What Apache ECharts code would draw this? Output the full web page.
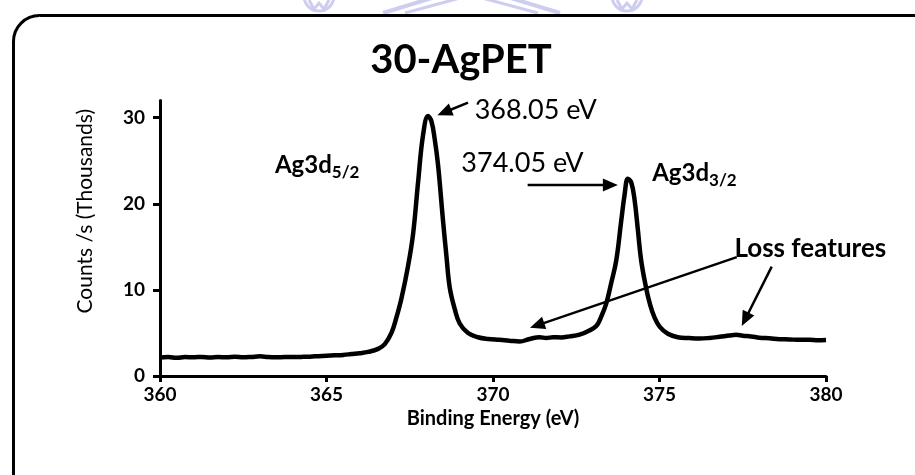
<!DOCTYPE html>
<html>
<head>
<meta charset="utf-8">
<script src="https://cdn.jsdelivr.net/npm/echarts@6/dist/echarts.min.js"></script>
<style>
  html, body { margin: 0; padding: 0; background: #ffffff; }
  #chart { width: 915px; height: 475px; }
</style>
</head>
<body>
<div id="chart"></div>
<script>
// Ag 3d XPS spectrum of the 30-AgPET sample
const energy = [
  360, 360.25, 360.5, 360.75, 361, 361.25, 361.5, 361.75, 362, 362.25, 362.5, 362.75,
  363, 363.25, 363.5, 363.75, 364, 364.25, 364.5, 364.75, 365, 365.25, 365.5, 365.75,
  366, 366.25, 366.55, 366.75, 366.95, 367.1, 367.25, 367.45, 367.6, 367.75, 367.9,
  368.05, 368.15, 368.25, 368.35, 368.5, 368.6, 368.7, 368.85, 369, 369.25, 369.55,
  369.85, 370.2, 370.5, 370.8, 371.1, 371.4, 371.6, 371.8, 372.05, 372.3, 372.6,
  372.85, 373.1, 373.25, 373.4, 373.55, 373.7, 373.85, 373.95, 374.05, 374.15, 374.25,
  374.35, 374.45, 374.6, 374.71, 374.85, 375.01, 375.25, 375.55, 375.9, 376.2, 376.5,
  376.8, 377.1, 377.3, 377.5, 377.75, 378, 378.3, 378.6, 378.9, 379.2, 379.5, 379.75, 380
];
// counts per second, thousands
const counts = [
  2.15, 2.2, 2.12, 2.2, 2.17, 2.22, 2.15, 2.2, 2.18, 2.24, 2.17, 2.22,
  2.28, 2.2, 2.18, 2.2, 2.2, 2.22, 2.25, 2.3, 2.35, 2.4, 2.45, 2.55,
  2.65, 2.8, 3.15, 3.7, 5.0, 6.8, 9.0, 12.8, 16.5, 22.5, 28.0,
  30.2, 29.6, 27.5, 24.5, 18.0, 14.0, 10.3, 7.8, 6.1, 5.0, 4.5,
  4.3, 4.2, 4.1, 4.0, 4.3, 4.5, 4.42, 4.5, 4.48, 4.6, 4.8,
  5.2, 5.8, 6.9, 8.4, 10.8, 13.4, 18.0, 21.0, 22.9, 22.5, 20.5,
  17.0, 13.4, 10.2, 8.4, 6.8, 5.7, 4.9, 4.5, 4.4, 4.35, 4.42,
  4.55, 4.7, 4.78, 4.68, 4.6, 4.45, 4.38, 4.28, 4.25, 4.2, 4.22, 4.15, 4.18
];

const xTickValues = [360, 365, 370, 375, 380];
const yTickValues = [0, 10, 20, 30];

// peak annotations: [energy, counts] in axis units
const peakTexts = [
  { text: '368.05 eV', at: [369.45, 30.9] },
  { text: '374.05 eV', at: [369.05, 24.7] }
];
const peakNames = [
  { main: 'Ag3d', sub: '5/2', at: [363.45, 24.5] },
  { main: 'Ag3d', sub: '3/2', at: [374.78, 23.5] }
];
const lossText = { text: 'Loss features', at: [377.25, 14.8] };
// arrows: tail -> head
const arrows = [
  { from: [369.25, 31.75], to: [368.33, 30.3] },
  { from: [371.04, 22.18], to: [373.75, 22.18] },
  { from: [377.32, 13.8], to: [371.11, 5.6] },
  { from: [378.37, 12.7], to: [377.47, 5.8] }
];

const FONT = 'Lato';
const chart = echarts.init(document.getElementById('chart'), null, { renderer: 'canvas' });

chart.setOption({
  backgroundColor: '#ffffff',
  animation: false,
  title: {
    text: '30-AgPET',
    left: 456,
    top: 35,
    textAlign: 'center',
    textStyle: { fontFamily: FONT, fontWeight: 'bold', fontSize: 40, color: '#000' }
  },
  grid: { left: 160, right: 89, top: 100.5, bottom: 99, containLabel: false },
  xAxis: {
    type: 'value',
    min: 360, max: 380, interval: 5,
    name: 'Binding Energy (eV)',
    nameLocation: 'middle',
    nameGap: 24,
    nameTextStyle: { fontFamily: FONT, fontWeight: 'bold', fontSize: 20, color: '#000' },
    axisLine: { lineStyle: { color: '#000', width: 3 } },
    axisTick: { length: 6, lineStyle: { color: '#000', width: 3 }, customValues: xTickValues },
    axisLabel: { customValues: xTickValues, margin: 9, fontFamily: FONT, fontWeight: 'bold', fontSize: 19, color: '#000' },
    splitLine: { show: false }
  },
  yAxis: {
    type: 'value',
    min: 0, max: 32,
    name: 'Counts /s (Thousands)',
    nameLocation: 'middle',
    nameGap: 64,
    nameTextStyle: { fontFamily: FONT, fontSize: 21, color: '#000', padding: [0, 0, 0, 54] },
    axisLine: { show: true, lineStyle: { color: '#000', width: 3 } },
    axisTick: { show: true, length: 7, lineStyle: { color: '#000', width: 3 }, customValues: yTickValues },
    axisLabel: { customValues: yTickValues, margin: 15, fontFamily: FONT, fontWeight: 'bold', fontSize: 19, color: '#000' },
    splitLine: { show: false }
  },
  series: [{
    type: 'line',
    data: energy.map((e, i) => [e, counts[i]]),
    showSymbol: false,
    smooth: 0.4,
    lineStyle: { color: '#000', width: 4.5 },
    z: 3
  }]
});

function px(p) { return chart.convertToPixel({ gridIndex: 0 }, p); }

function arrowGraphics(a) {
  const t = px(a.from), h = px(a.to);
  const dx = h[0] - t[0], dy = h[1] - t[1];
  const len = Math.hypot(dx, dy);
  const ux = dx / len, uy = dy / len;
  const headLen = 15, headHalf = 6.5;
  const bx = h[0] - ux * headLen, by = h[1] - uy * headLen;
  return [
    { type: 'line', shape: { x1: t[0], y1: t[1], x2: bx + ux * 2, y2: by + uy * 2 },
      style: { stroke: '#000', lineWidth: 2.5 }, z: 10 },
    { type: 'polygon', shape: { points: [[h[0], h[1]], [bx - uy * headHalf, by + ux * headHalf], [bx + uy * headHalf, by - ux * headHalf]] },
      style: { fill: '#000' }, z: 10 }
  ];
}

const measureCtx = document.createElement('canvas').getContext('2d');
function textWidth(str, font) { measureCtx.font = font; return measureCtx.measureText(str).width; }

function drawAnnotations() {
  const g = [];
  // faint crest above the frame
  const wm = '#cdcdef';
  g.push({ type: 'circle', shape: { cx: 319, cy: -4, r: 15 }, style: { stroke: wm, lineWidth: 3, fill: 'none' }, z: 0 });
  g.push({ type: 'polyline', shape: { points: [[309, 0], [314, 9], [319, 3], [324, 9], [329, 0]] }, style: { stroke: wm, lineWidth: 3, fill: 'none' }, z: 0 });
  g.push({ type: 'circle', shape: { cx: 627, cy: -4, r: 15 }, style: { stroke: wm, lineWidth: 3, fill: 'none' }, z: 0 });
  g.push({ type: 'polyline', shape: { points: [[617, 0], [622, 9], [627, 3], [632, 9], [637, 0]] }, style: { stroke: wm, lineWidth: 3, fill: 'none' }, z: 0 });
  g.push({ type: 'polyline', shape: { points: [[383, 13], [471, -14], [560, 13]] }, style: { stroke: wm, lineWidth: 4, fill: 'none' }, z: 0 });
  g.push({ type: 'polyline', shape: { points: [[405, 13], [471, -5], [538, 13]] }, style: { stroke: wm, lineWidth: 3, fill: 'none' }, z: 0 });

  // rounded frame
  g.push({ type: 'rect', shape: { x: 13.5, y: 15.5, width: 960, height: 500, r: 26 },
    style: { stroke: '#000', lineWidth: 3, fill: 'none' }, z: 1 });

  const valueFont = '27px ' + FONT;
  peakTexts.forEach(p => {
    const q = px(p.at);
    g.push({ type: 'text', style: { text: p.text, x: q[0], y: q[1], font: valueFont, fill: '#000', textAlign: 'left', textVerticalAlign: 'middle' }, z: 10 });
  });

  const nameFont = 'bold 24px ' + FONT;
  const subFont = 'bold 17px ' + FONT;
  peakNames.forEach(p => {
    const q = px(p.at);
    const w = textWidth(p.main, nameFont);
    g.push({ type: 'text', style: { text: p.main, x: q[0], y: q[1], font: nameFont, fill: '#000', textAlign: 'left', textVerticalAlign: 'middle' }, z: 10 });
    g.push({ type: 'text', style: { text: p.sub, x: q[0] + w, y: q[1] + 7, font: subFont, fill: '#000', textAlign: 'left', textVerticalAlign: 'middle' }, z: 10 });
  });

  const lq = px(lossText.at);
  g.push({ type: 'text', style: { text: lossText.text, x: lq[0], y: lq[1], font: 'bold 26px ' + FONT, fill: '#000', textAlign: 'left', textVerticalAlign: 'middle' }, z: 10 });

  arrows.forEach(a => { arrowGraphics(a).forEach(el => g.push(el)); });

  chart.setOption({ graphic: { elements: g } });
}

drawAnnotations();
</script>
</body>
</html>
